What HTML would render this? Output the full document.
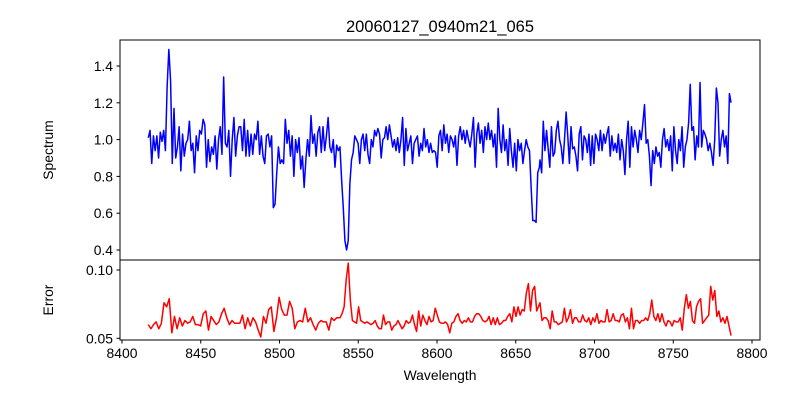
<!DOCTYPE html>
<html><head><meta charset="utf-8"><style>
html,body{margin:0;padding:0;background:#fff}
svg{display:block;font-family:"Liberation Sans","DejaVu Sans",sans-serif}
</style></head><body>
<svg id="chart" width="800" height="400" viewBox="0 0 800 400" xmlns="http://www.w3.org/2000/svg">
<rect x="0" y="0" width="800" height="400" fill="#fff"/>
<text x="440" y="32" font-size="16.5" text-anchor="middle">20060127_0940m21_065</text>
<text transform="translate(53,150) rotate(-90)" font-size="13.9" text-anchor="middle">Spectrum</text>
<text transform="translate(53,300) rotate(-90)" font-size="13.9" text-anchor="middle">Error</text>
<text x="440" y="380" font-size="13.9" text-anchor="middle">Wavelength</text>
<g id="layer"></g>
</svg>
<script>
const xTicks = [8400,8450,8500,8550,8600,8650,8700,8750,8800];
const specTicks = [0.4,0.6,0.8,1.0,1.2,1.4];
const specTickLabels = ["0.4","0.6","0.8","1.0","1.2","1.4"];
const errTicks = [0.05,0.10];
const errTickLabels = ["0.05","0.10"];
// wavelength ranges of each data segment
const specSegStart = [8416.7, 8538.4, 8665.4];
const specSegEnd = [8537.4, 8665.0, 8786.7];
const errSegStart = [8416.7, 8538.4, 8665.4];
const errSegEnd = [8536.3, 8663.3, 8786.7];
const spec1 = [1.01,1.05,0.87,1.02,0.94,1.02,0.90,1.04,0.99,1.05,0.94,1.29,1.49,1.32,0.87,1.17,0.90,0.96,1.07,0.83,1.03,0.91,0.98,1.00,1.10,0.94,0.98,0.82,1.02,0.94,1.05,1.03,1.11,1.08,0.85,1.00,0.88,0.96,0.92,1.02,0.84,1.00,1.07,0.92,1.34,0.98,0.96,1.05,0.80,1.00,1.12,0.91,1.02,1.07,1.07,0.94,1.11,0.91,1.05,0.91,1.03,0.92,1.03,1.00,1.10,0.92,1.02,0.91,0.87,1.02,1.03,0.96,1.02,0.63,0.65,0.82,0.96,0.87,0.89,0.87,1.11,0.98,1.05,0.91,1.02,0.80,1.00,0.93,1.01,0.84,0.91,0.74,0.89,1.00,0.91,1.13,0.98,1.03,0.91,1.04,1.07,0.93,1.07,0.94,1.02,1.12,0.96,0.93,1.00,0.85,0.97,0.94];
const spec2 = [0.96,0.78,0.63,0.45,0.40,0.45,0.76,0.89,0.93,1.02,1.00,0.98,0.87,1.00,1.03,0.94,1.03,0.92,0.87,1.00,0.96,1.05,1.02,1.06,1.03,0.90,1.00,1.01,1.07,1.00,1.08,1.02,0.96,1.00,0.94,1.01,0.93,1.00,1.12,0.86,1.06,0.94,0.98,1.02,0.87,0.98,1.00,1.02,0.91,0.98,0.94,1.06,0.96,1.00,0.93,0.98,0.93,0.94,0.93,0.85,1.02,1.05,0.94,1.08,0.98,1.03,0.93,1.02,1.00,0.96,1.02,0.86,1.02,1.07,1.00,1.05,0.98,1.05,1.00,0.96,1.03,1.12,0.85,1.03,1.09,0.98,1.05,0.93,1.07,1.00,1.09,1.00,1.05,0.96,1.03,0.85,1.17,1.00,0.93,1.08,0.94,1.00,0.86,1.06,0.94,0.85,0.98,0.83,1.00,0.94,0.98,0.87,0.94,1.00,0.96,0.94,0.74,0.56,0.56,0.55,0.82,0.85];
const spec3 = [0.89,0.82,1.10,0.94,1.05,0.95,0.85,1.07,0.91,0.93,1.05,1.10,1.00,0.96,0.87,1.00,1.15,1.02,0.87,1.07,0.95,0.96,0.91,0.83,1.03,1.07,0.89,1.02,1.00,0.93,1.03,0.86,1.02,0.87,1.03,1.00,0.94,1.05,0.94,1.03,0.98,1.03,1.07,0.91,1.02,0.94,0.98,0.93,1.03,0.89,1.00,0.94,0.81,1.00,1.10,0.85,1.07,0.96,1.05,1.00,0.93,1.05,1.00,1.09,1.19,0.98,1.00,0.91,0.75,0.94,0.87,0.96,0.91,0.93,0.85,1.00,1.06,0.96,1.00,0.94,1.02,0.83,1.07,0.94,0.87,1.00,0.94,1.07,0.85,0.96,1.00,1.09,1.30,1.05,1.07,0.89,1.02,0.96,1.31,0.96,1.05,1.03,1.00,0.94,0.98,0.93,0.86,1.00,1.28,1.20,0.91,1.00,1.05,0.96,1.02,0.87,1.25,1.20];
const err1 = [.060,.057,.060,.062,.057,.061,.076,.073,.079,.054,.066,.057,.065,.059,.063,.061,.062,.066,.060,.060,.059,.068,.070,.056,.066,.063,.060,.062,.068,.072,.065,.060,.063,.061,.061,.061,.067,.057,.065,.059,.065,.062,.056,.051,.066,.061,.071,.073,.055,.065,.080,.071,.067,.067,.077,.072,.057,.062,.063,.062,.072,.062,.065,.060,.056,.061,.063,.062,.062,.056,.065,.063,.065];
const err2 = [.065,.068,.073,.093,.105,.078,.063,.062,.061,.073,.063,.062,.061,.062,.061,.060,.061,.063,.059,.057,.057,.067,.060,.062,.062,.056,.059,.060,.063,.060,.057,.059,.063,.061,.062,.067,.060,.055,.070,.059,.067,.063,.060,.066,.062,.063,.072,.067,.062,.061,.061,.062,.060,.054,.061,.062,.066,.068,.063,.061,.063,.062,.065,.062,.062,.066,.068,.068,.066,.063,.062,.063,.066,.060,.065,.060,.065,.060,.061,.063,.063,.066,.068,.062,.073,.066,.073,.067,.071,.070,.083,.090,.070,.085,.088,.070];
const err3 = [.076,.063,.065,.065,.063,.057,.070,.062,.062,.060,.061,.062,.072,.062,.065,.071,.061,.065,.065,.062,.062,.067,.063,.062,.065,.060,.065,.062,.068,.061,.063,.062,.062,.071,.062,.063,.068,.063,.063,.062,.067,.068,.062,.065,.057,.072,.057,.063,.063,.061,.063,.063,.065,.063,.068,.078,.066,.063,.068,.062,.068,.062,.059,.063,.062,.059,.063,.062,.062,.065,.056,.072,.082,.072,.077,.063,.061,.073,.077,.079,.061,.063,.065,.067,.088,.078,.085,.066,.070,.062,.065,.061,.066,.059,.052];

const NS = "http://www.w3.org/2000/svg";
const L = 120, R = 760, T1 = 40, B1 = 260, T2 = 260, B2 = 340;
function xs(v){ return 122 + (v - 8400) * 1.575; }
function ys1(v){ return 66 + (1.4 - v) * 184; }
function ys2(v){ return 338.3 - (v - 0.05) * 1366; }
const layer = document.getElementById('layer');
function mk(tag, attrs, parent){
  const e = document.createElementNS(NS, tag);
  for (const k in attrs) e.setAttribute(k, attrs[k]);
  (parent || layer).appendChild(e);
  return e;
}
function series(segs, starts, ends, yf, color, name){
  let d = '';
  let first = true;
  segs.forEach((vals, s)=>{
    const n = vals.length;
    vals.forEach((v,i)=>{
      const w = starts[s] + i * (ends[s] - starts[s]) / (n - 1);
      d += (first ? 'M' : 'L') + xs(w).toFixed(2) + ',' + yf(v).toFixed(2);
      first = false;
    });
  });
  const p = mk('path', {d: d, fill: 'none', stroke: color, 'stroke-width': 1.5, 'stroke-linejoin': 'round'});
  
  
}
series([spec1, spec2, spec3], specSegStart, specSegEnd, ys1, '#0000ff', 'spectrum-line');
series([err1, err2, err3], errSegStart, errSegEnd, ys2, '#ff0000', 'error-line');

const f1 = mk('rect', {x: L, y: T1, width: R - L, height: B1 - T1, fill: 'none', stroke: '#000', 'stroke-width': 1});


const f2 = mk('rect', {x: L, y: T2, width: R - L, height: B2 - T2, fill: 'none', stroke: '#000', 'stroke-width': 1});



specTicks.forEach((t,i)=>{
  const y = ys1(t);
  const ln = mk('line', {x1: L - 3.5, x2: L, y1: y, y2: y, stroke: '#000'});
  
  
  const tx = mk('text', {x: L - 7, y: y + 5, 'font-size': 13.9, 'text-anchor': 'end'});
  tx.textContent = specTickLabels[i];
  
  
});
errTicks.forEach((t,i)=>{
  const y = ys2(t);
  const ln = mk('line', {x1: L - 3.5, x2: L, y1: y, y2: y, stroke: '#000'});
  
  
  const tx = mk('text', {x: L - 7, y: y + 5, 'font-size': 13.9, 'text-anchor': 'end'});
  tx.textContent = errTickLabels[i];
  
  
});
xTicks.forEach(t=>{
  const x = xs(t);
  const ln = mk('line', {x1: x, x2: x, y1: B2, y2: B2 + 3.5, stroke: '#000'});
  
  
  const tx = mk('text', {x: x, y: B2 + 18, 'font-size': 13.9, 'text-anchor': 'middle'});
  tx.textContent = String(t);
  
  
});
</script>
</body></html>
